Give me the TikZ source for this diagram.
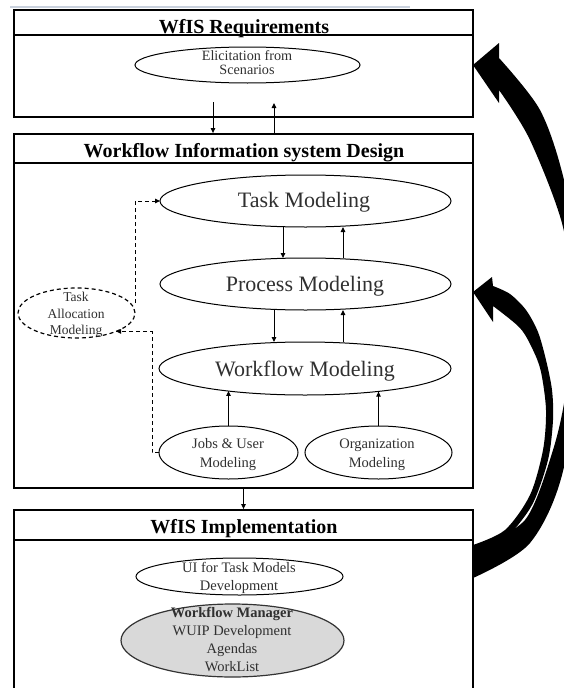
\documentclass[tikz,border=0pt]{standalone}
\usepackage{fontspec}
\setmainfont{Liberation Serif}
\usetikzlibrary{shapes.geometric,arrows.meta}
\definecolor{txtc}{HTML}{303030}
\definecolor{grayfill}{HTML}{D9D9D9}
\definecolor{faint}{HTML}{C9D1DD}
\begin{document}
\begin{tikzpicture}[x=1pt,y=-1pt,
  boxline/.style={draw, line width=1.8pt, rectangle, inner sep=0pt, minimum width=459pt},
  titletxt/.style={anchor=base, inner sep=0pt, font=\fontsize{20}{22}\selectfont\bfseries},
  ell/.style={draw, ellipse, line width=1pt, inner sep=0pt, outer sep=0pt},
  txt/.style={anchor=base, inner sep=0pt, text=txtc},
  big/.style={txt, font=\fontsize{22}{26}\selectfont},
  small/.style={txt, font=\fontsize{14.5}{18}\selectfont},
  arr/.style={-{Triangle[length=5pt,width=4.5pt]}, line width=1pt},
  dasharr/.style={arr, dash pattern=on 4pt off 3pt},
]
\useasboundingbox (0,0) rectangle (564,688);
\clip (0,0) rectangle (564,688);

% faint line at top
\draw[faint, line width=1.5pt] (10,7) -- (410,7);

% ---------- Box 1 ----------
\node[boxline, minimum height=25pt] (t1) at (243.5,22.5) {};
\node[boxline, minimum height=82pt] (b1) at (243.5,76) {};
\node[titletxt] (t1txt) at (244,33) {WfIS Requirements};
\node[ell, minimum width=225pt, minimum height=36pt] (elic) at (247.5,65) {};
\node[txt, font=\fontsize{14.2}{16}\selectfont] (elic1) at (247,60) {Elicitation from};
\node[txt, font=\fontsize{14.2}{16}\selectfont] (elic2) at (247,74) {Scenarios};

% ---------- Box 2 ----------
\node[boxline, minimum height=29pt] (t2) at (243.5,148.5) {};
\node[boxline, minimum height=325pt] (b2) at (243.5,325.5) {};
\node[titletxt] (t2txt) at (244,157) {Workflow Information system Design};

\node[ell, minimum width=291pt, minimum height=52pt] (task) at (305.5,201) {};
\node[big] (tasktxt) at (304,207.5) {Task Modeling};
\node[ell, minimum width=291pt, minimum height=52pt] (proc) at (305.5,284) {};
\node[big] (proctxt) at (305,291.5) {Process Modeling};
\node[ell, minimum width=292pt, minimum height=53pt] (wf) at (305,368.5) {};
\node[big] (wftxt) at (305,376) {Workflow Modeling};

\node[ell, dash pattern=on 4pt off 3pt, line width=1.2pt, minimum width=117pt, minimum height=50pt] (ta) at (76.5,313) {};
\node[txt, font=\fontsize{13.5}{16}\selectfont] (ta1) at (76,301) {Task};
\node[txt, font=\fontsize{13.5}{16}\selectfont] (ta2) at (76,318) {Allocation};
\node[txt, font=\fontsize{13.5}{16}\selectfont] (ta3) at (76,334) {Modeling};

\node[ell, minimum width=139pt, minimum height=53pt] (jobs) at (228.5,452.5) {};
\node[small] (jobs1) at (228,448) {Jobs \& User};
\node[small] (jobs2) at (228,467) {Modeling};
\node[ell, minimum width=147pt, minimum height=53pt] (org) at (378.5,452.5) {};
\node[small] (org1) at (377,448) {Organization};
\node[small] (org2) at (377,467) {Modeling};

% ---------- Box 3 ----------
\node[boxline, minimum height=30pt] (t3) at (243.5,525) {};
\node[boxline, minimum height=160pt] (b3) at (243.5,620) {};
\node[titletxt] (t3txt) at (244,533) {WfIS Implementation};

\node[ell, minimum width=207pt, minimum height=37pt] (ui) at (239.5,576.5) {};
\node[small] (ui1) at (239,572) {UI for Task Models};
\node[small] (ui2) at (239,590) {Development};

\node[ell, fill=grayfill, draw=black!80, line width=1.2pt, minimum width=223pt, minimum height=73pt] (wm) at (232.5,640.5) {};
\node[small, font=\fontsize{14.5}{18}\selectfont\bfseries] (wm1) at (232,617) {Workflow Manager};
\node[small] (wm2) at (232,635) {WUIP Development};
\node[small] (wm3) at (232,653) {Agendas};
\node[small] (wm4) at (232,671) {WorkList};

% ---------- connectors ----------
\coordinate (d1s) at (213,102);
\coordinate (u1e) at (274,103);
\draw[arr] (d1s) -- (d1s |- t2.north);
\draw[arr] (u1e |- t2.north) -- (u1e);

\coordinate (xa) at (283,0);
\coordinate (xb) at (343,0);
\coordinate (xc) at (274,0);
\draw[arr] (task.south -| xa) -- (proc.north -| xa);
\draw[arr] (proc.north -| xb) -- (task.south -| xb);
\draw[arr] (proc.south -| xc) -- (wf.north -| xc);
\draw[arr] (wf.north -| xb) -- (proc.south -| xb);

\draw[arr] (jobs.north) -- (jobs.north |- wf.196.4);
\draw[arr] (org.north) -- (org.north |- wf.342.7);

\draw[arr] (b2.south) -- (t3.north);

\draw[dasharr] ([yshift=10pt]ta.east) |- (task.west);
\draw[dasharr] (jobs.west) -- ++(-7,0) |- (ta.-25);

% ---------- big curved arrows ----------
\fill[black] (473,65) -- (499,43) -- (499,58)
  -- plot[smooth] coordinates {(499,58) (540,110) (564,180) (586,300) (564,467) (530,543) (473,578)}
  -- (473,548)
  -- plot[smooth] coordinates {(473,548) (525,520) (553,450) (566,390) (571,310) (563,227) (530,140) (499,90)}
  -- (499,103) -- cycle;

\fill[black] (473,292) -- (492,277) -- (493,286)
  -- plot[smooth] coordinates {(493,286) (510,294) (526,310) (538,332) (546,360) (552,390) (553,420) (548,460) (532,505) (505,540) (473,570)}
  -- (473,545)
  -- plot[smooth] coordinates {(473,545) (505,530) (530,495) (543,450) (546,410) (541,372) (533,350) (520,328) (493,306)}
  -- (493,322) -- cycle;
\end{tikzpicture}
\end{document}
